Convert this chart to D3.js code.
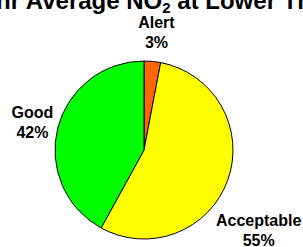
<!DOCTYPE html>
<meta charset="utf-8">
<style>
body { margin: 0; background: #fff; }
text { font-family: "Liberation Sans", Arial, sans-serif; font-weight: bold; fill: #000; }
.slice { stroke: #000; stroke-width: 1px; }
</style>
<svg width="303" height="247"></svg>
<script src="https://cdn.jsdelivr.net/npm/d3@7"></script>
<script>

var categories = ["Alert", "Acceptable", "Good"];
var values = [3, 55, 42];
var colors = ["#ff6600", "#ffff00", "#00ff00"];

var svg = d3.select("svg"),
    width = +svg.attr("width"),
    height = +svg.attr("height");

var cx = 144, cy = 150, r = 89;

// title is wider than the chart, so only its middle shows
var title = svg.append("text")
    .attr("y", 9)
    .style("font-size", "24px");
title.append("tspan").text("1-hr Average NO");
title.append("tspan").text("2").style("font-size", "15px").attr("dy", 4);
title.append("tspan").text(" at Lower Thames").attr("dy", -4);
var pre = svg.append("text").style("font-size", "24px").text("1-hr ");
var preW = pre.node().getComputedTextLength();
pre.remove();
title.attr("x", 20 - preW);

var color = d3.scaleOrdinal().domain(categories).range(colors);

var pie = d3.pie().sort(null).value(function(d, i) { return values[i]; });
var arcs = pie(categories);

var arc = d3.arc().innerRadius(0).outerRadius(r);

var g = svg.append("g").attr("transform", "translate(" + cx + "," + cy + ")");

g.selectAll("path")
    .data(arcs)
  .enter().append("path")
    .attr("class", "slice")
    .attr("fill", function(d) { return color(d.data); })
    .attr("d", arc);

// excel "best fit" label spots: angle (deg) and distance from centre
var labelSpot = { "Alert": [6, 119], "Acceptable": [125, 140], "Good": [284, 115] };

var lab = g.selectAll(".lab")
    .data(arcs)
  .enter().append("text")
    .attr("class", "lab")
    .attr("text-anchor", "middle")
    .style("font-size", "16px")
    .attr("transform", function(d) {
      var s = labelSpot[d.data], a = s[0] * Math.PI / 180;
      return "translate(" + (Math.sin(a) * s[1]) + "," + (-Math.cos(a) * s[1]) + ")";
    });
lab.append("tspan").attr("x", 0).attr("dy", -4).text(function(d) { return d.data; });
lab.append("tspan").attr("x", 0).attr("dy", 20)
    .text(function(d, i) { return Math.round(d.value / d3.sum(values) * 100) + "%"; });

</script>
